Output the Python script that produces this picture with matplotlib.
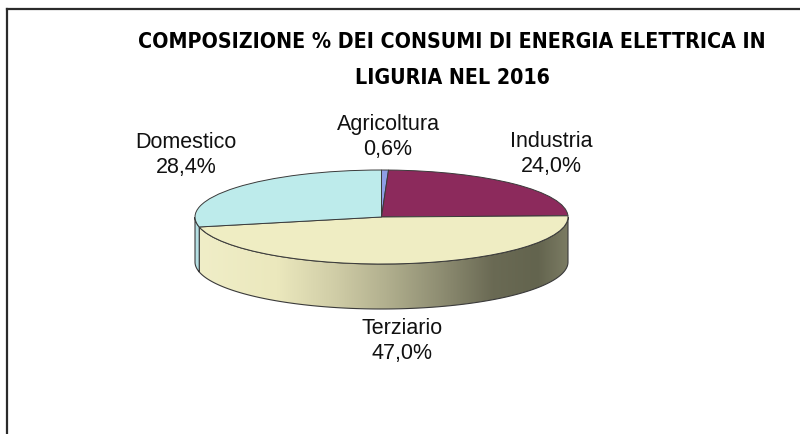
import numpy as np
import matplotlib.pyplot as plt
from matplotlib.colors import LinearSegmentedColormap
from matplotlib.patches import Polygon
from matplotlib.lines import Line2D

# data
labels = ['Agricoltura', 'Industria', 'Terziario', 'Domestico']
values = [0.6, 24.0, 47.0, 28.4]
colors = ['#8e9ee6', '#8c2a5c', '#efedc3', '#bdebeb']
side_colors = ['#6f7fc8', '#6a1e45', None, '#b6e0e4']
title = 'COMPOSIZIONE % DEI CONSUMI DI ENERGIA ELETTRICA IN\nLIGURIA NEL 2016'

W, H = 800, 434
fig = plt.figure(figsize=(8, 4.34), dpi=100)
ax = fig.add_axes([0, 0, 1, 1])

# top face geometry in pixels (from top-left)
cx, cy = 381.5, 217
rx, ry = 186.5, 47
depth = 45 / ry

# top of the pie
wedges, _ = ax.pie(values, colors=colors, startangle=90, counterclock=False,
                   radius=1, wedgeprops=dict(edgecolor='#3a3a3a', linewidth=0.7, zorder=3))

# side of the pie (front half only)
fracs = np.array(values) / sum(values)
edges = 90 - 360 * np.concatenate([[0], np.cumsum(fracs)])
side_cmap = LinearSegmentedColormap.from_list('side', [
    (0.0, '#f0eec8'), (0.22, '#ebe8bd'), (0.38, '#cfcca6'), (0.52, '#b0ae8d'),
    (0.66, '#8e8d72'), (0.8, '#6a6a54'), (0.92, '#63644e'), (1.0, '#7b7b63')])

for i in range(len(values)):
    a = max(edges[i + 1], -180)
    b = min(edges[i], 0)
    if a >= b:
        continue
    t = np.radians(np.linspace(a, b, 200))
    top = np.column_stack([np.cos(t), np.sin(t)])
    bot = np.column_stack([np.cos(t), np.sin(t) - depth])
    pts = np.vstack([top, bot[::-1]])
    if side_colors[i] is None:
        poly = Polygon(pts, closed=True, facecolor='none', edgecolor='#3a3a3a',
                       linewidth=0.8, zorder=2)
        ax.add_patch(poly)
        grad = np.linspace(0, 1, 256).reshape(1, -1)
        im = ax.imshow(grad, extent=(-1, 1, -1 - depth, 0), aspect='auto',
                       cmap=side_cmap, zorder=1)
        im.set_clip_path(poly)
    else:
        ax.add_patch(Polygon(pts, closed=True, facecolor=side_colors[i],
                             edgecolor='#3a3a3a', linewidth=0.8, zorder=2))

ax.set_xlim(-cx / rx, (W - cx) / rx)
ax.set_ylim((cy - H) / ry, cy / ry)
ax.set_aspect('auto')
ax.axis('off')

# labels
label_pos = [(388, 137), (551, 154), (402, 341), (186, 155)]
for lab, val, (x, y) in zip(labels, values, label_pos):
    txt = lab + '\n' + ('%.1f%%' % val).replace('.', ',')
    fig.text(x / W, 1 - y / H, txt, ha='center', va='center', fontsize=15.5,
             family=['Liberation Sans', 'DejaVu Sans'], linespacing=1.2, color='#111111')

fig.text(452 / W, 1 - 60 / H, title, ha='center', va='center', fontsize=15.3,
         fontweight='bold', fontstretch='condensed', family='DejaVu Sans',
         linespacing=1.95, color='#000000')

# chart border (top and left visible)
fig.add_artist(Line2D([7 / W, 1], [1 - 9 / H, 1 - 9 / H], color='#2b2b2b', linewidth=1.6))
fig.add_artist(Line2D([7 / W, 7 / W], [0, 1 - 9 / H], color='#2b2b2b', linewidth=1.6))

fig.savefig('out.png', dpi=100)
